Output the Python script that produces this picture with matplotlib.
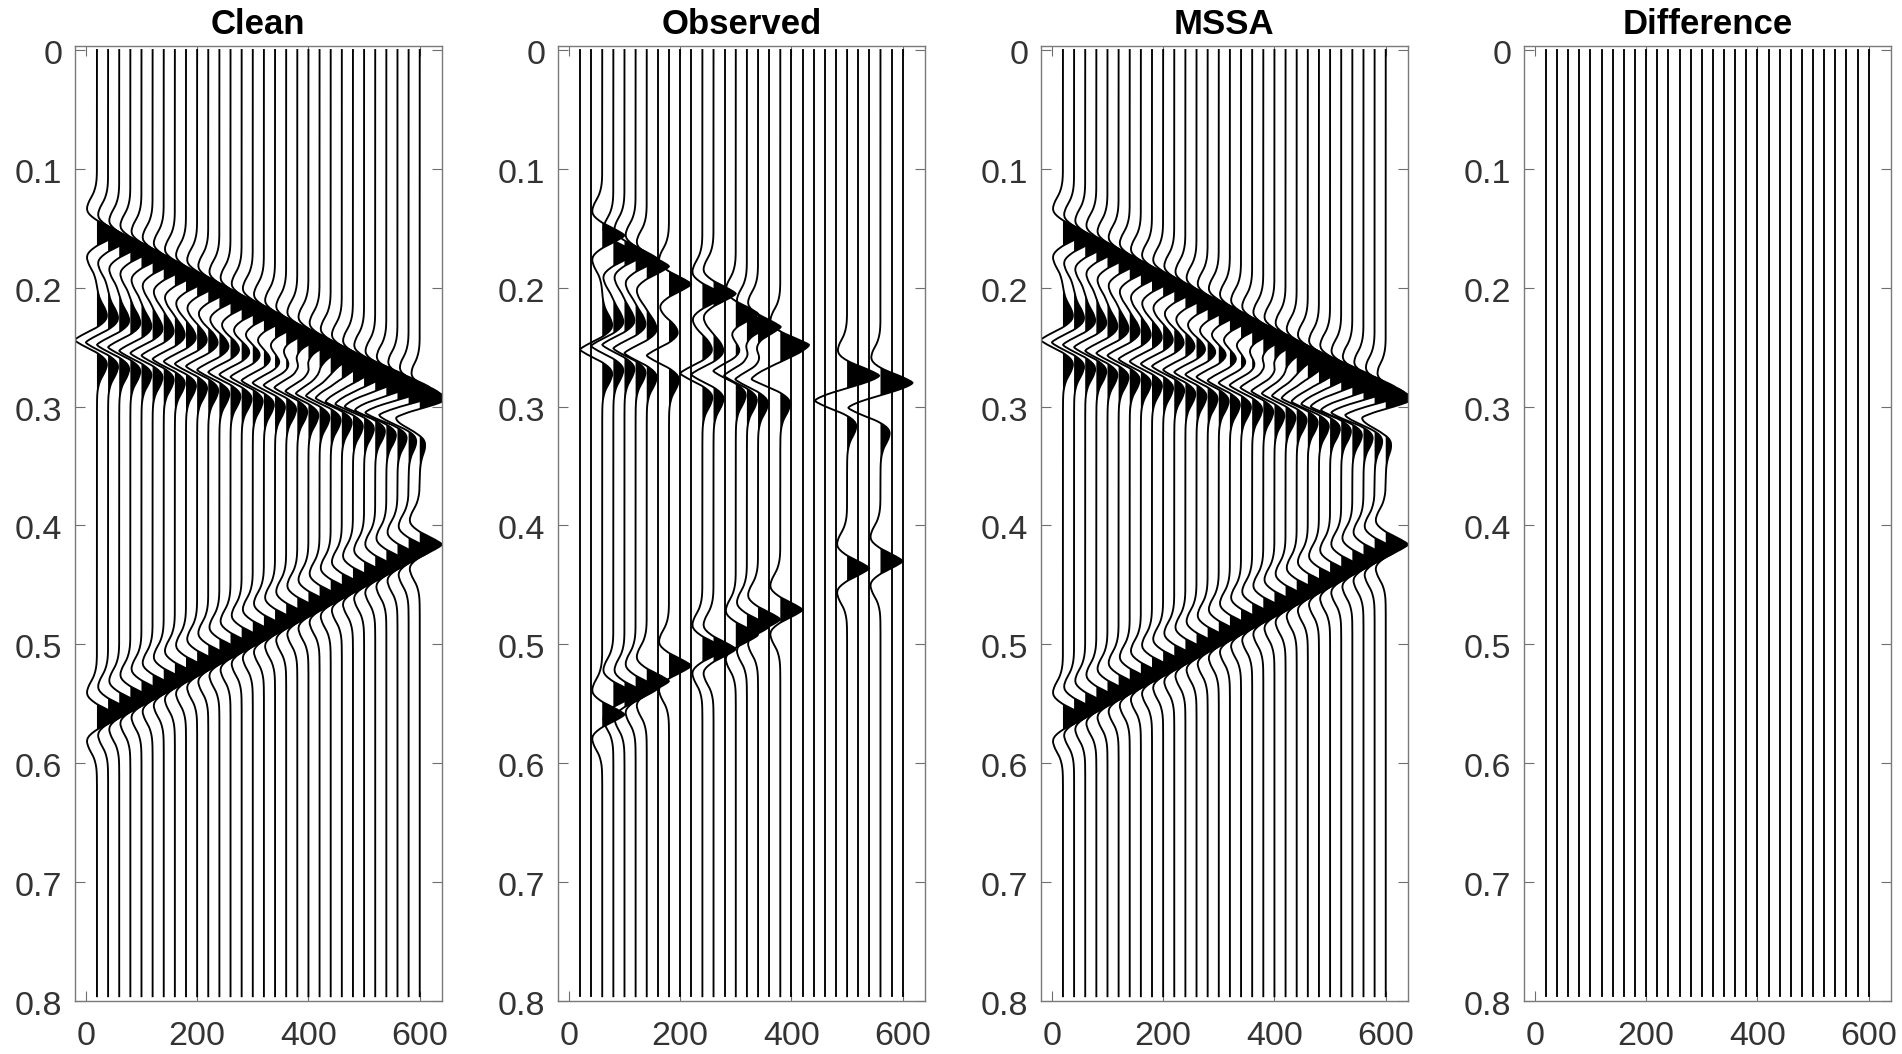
#!/usr/bin/env python
"""Wiggle plots of the clean, observed, reconstructed and difference gathers."""
import numpy as np
import matplotlib
matplotlib.use("Agg")
import matplotlib.pyplot as plt
from matplotlib.transforms import ScaledTranslation

plt.rcParams['font.family'] = ['Liberation Sans', 'DejaVu Sans']

# trace positions
offsets = [20, 40, 60, 80, 100, 120, 140, 160, 180, 200,
           220, 240, 260, 280, 300, 320, 340, 360, 380, 400,
           420, 440, 460, 480, 500, 520, 540, 560, 580, 600]

# arrival time of each event on each clean trace, in ms
event1_ms = [154, 159, 164, 168, 173, 178, 183, 188, 193, 197,
             202, 207, 212, 217, 221, 226, 231, 236, 241, 245,
             250, 255, 260, 265, 269, 274, 279, 284, 289, 294]
event2_ms = [244, 246, 248, 250, 253, 255, 257, 260, 262, 264,
             266, 269, 271, 273, 275, 278, 280, 282, 284, 287,
             289, 291, 293, 296, 298, 300, 303, 305, 307, 309]
event3_ms = [561, 556, 551, 546, 541, 536, 531, 526, 521, 516,
             511, 506, 501, 496, 491, 486, 481, 476, 471, 466,
             461, 456, 451, 446, 441, 436, 431, 426, 421, 416]

# amplitude of the second event, it is opposite in sign and fades on the last traces
event2_amp = [-1.0] * 28 + [-0.9, -0.75]

# the traces that survive in the observed panel and their own arrivals, in ms
observed_offsets = [60, 80, 100, 120, 140, 180, 240, 260, 300, 320, 340, 380, 500, 560]
obs_event1_ms = [156, 171, 171, 176, 182, 197, 207, 205, 222, 231, 233, 248, 274, 280]
obs_event2_ms = [252, 249, 248, 251, 255, 257, 272, 273, 270, 274, 277, 277, 295, 301]
obs_event3_ms = [559, 542, 542, 537, 531, 518, 504, 504, 492, 485, 479, 471, 436, 430]

# one side of the wavelet, read every 1 ms from its peak outwards
wavelet_side = [1.0, 0.95, 0.87, 0.78, 0.69, 0.59, 0.49, 0.385, 0.28, 0.17,
                0.07, -0.02, -0.1, -0.17, -0.24, -0.295, -0.35, -0.385, -0.42, -0.435,
                -0.445, -0.445, -0.44, -0.425, -0.41, -0.39, -0.37, -0.345, -0.32, -0.29,
                -0.26, -0.23, -0.2, -0.175, -0.15, -0.13, -0.11, -0.095, -0.08, -0.067,
                -0.055, -0.045, -0.035, -0.029, -0.023, -0.018, -0.014, -0.011, -0.009, -0.007,
                -0.005, -0.004, -0.003, -0.002, -0.002, -0.001, -0.001]

titles = ["Clean", "Observed", "MSSA", "Difference"]
xtick_vals = [0, 200, 400, 600]
ytick_vals = [0, 0.1, 0.2, 0.3, 0.4, 0.5, 0.6, 0.7, 0.8]
ytick_labels = ["0", "0.1", "0.2", "0.3", "0.4", "0.5", "0.6", "0.7", "0.8"]

N_SAMPLES = 797  # 1 ms samples
AMP_SCALE = 40.0  # x units for a unit amplitude

wavelet = np.array(wavelet_side[:0:-1] + wavelet_side)
half = len(wavelet_side) - 1


def add_event(trace, time_ms, amp):
    trace[time_ms - half:time_ms + half + 1] += amp * wavelet


clean = np.zeros((N_SAMPLES, len(offsets)))
for i in range(len(offsets)):
    add_event(clean[:, i], event1_ms[i], 1.0)
    add_event(clean[:, i], event2_ms[i], event2_amp[i])
    add_event(clean[:, i], event3_ms[i], 1.0)

observed = np.zeros_like(clean)
for j, off in enumerate(observed_offsets):
    i = offsets.index(off)
    add_event(observed[:, i], obs_event1_ms[j], 1.0)
    add_event(observed[:, i], obs_event2_ms[j], -1.0)
    add_event(observed[:, i], obs_event3_ms[j], 1.0)

panels = [clean, observed, clean, np.zeros_like(clean)]
time = np.arange(N_SAMPLES) / 1000.0

W, H = 1902, 1054
fig = plt.figure(figsize=(W / 100, H / 100), dpi=100, facecolor='white')

lefts = [74.7, 557.7, 1040.7, 1523.7]
ax_w, top, bottom = 367.3, 45.7, 1001.0
label_shift = ScaledTranslation(0, -0.02, fig.dpi_scale_trans)

for left, data, title in zip(lefts, panels, titles):
    ax = fig.add_axes([left / W, 1 - bottom / H, ax_w / W, (bottom - top) / H])
    for i, off in enumerate(offsets):
        wig = data[:, i] * AMP_SCALE
        ax.fill_betweenx(time, off, off + wig, where=wig > 0, interpolate=True,
                         color='k', lw=0)
        ax.plot(off + wig, time, color='k', lw=1.35)
    ax.set_xlim(-20, 640)
    ax.set_ylim(0.8, -0.0036)
    ax.set_xticks(xtick_vals)
    ax.set_yticks(ytick_vals)
    ax.set_yticklabels(ytick_labels)
    ax.tick_params(direction='in', length=7.2, width=0.8, color='#6e6e6e', top=True, right=True,
                   labelsize=24.5, labelcolor='#333333')
    ax.tick_params(axis='x', pad=14.5)
    ax.tick_params(axis='y', pad=9)
    for lab in ax.get_yticklabels():
        lab.set_transform(lab.get_transform() + label_shift)
    for s in ax.spines.values():
        s.set_color('#7a7a7a')
        s.set_linewidth(1.0)
    ax.set_title(title, fontsize=25, fontweight='bold', color='k', pad=8.5)

fig.savefig('out.png', dpi=100)
